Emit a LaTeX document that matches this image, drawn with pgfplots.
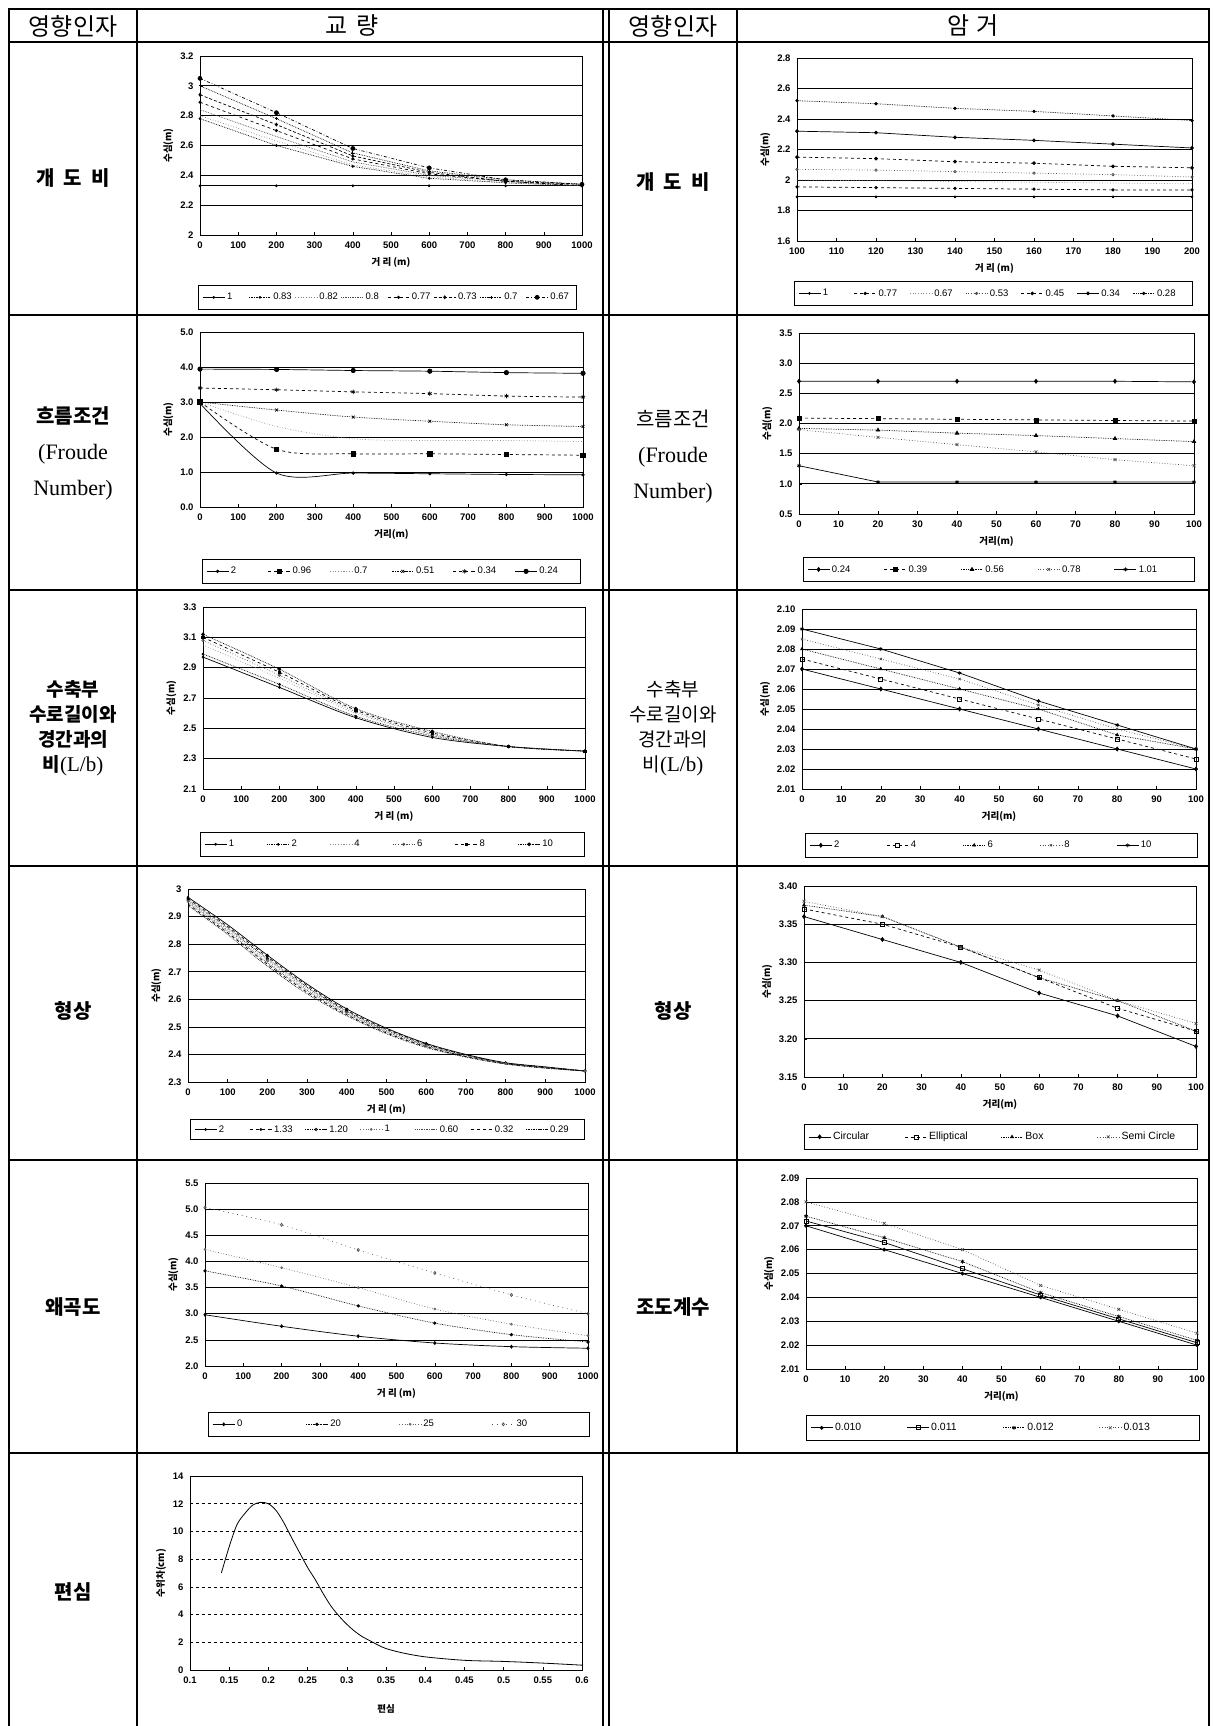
\documentclass[border=0pt]{standalone}
\usepackage{fontspec}
\usepackage{pgfplots}
\pgfplotsset{compat=1.18}
\setmainfont{Liberation Sans}
\newfontfamily\kr{Noto Sans CJK KR}
\newfontfamily\ser{Liberation Serif}
\newcommand\tickf{\fontsize{9.5}{10}\selectfont\bfseries}
\newcommand\legf{\fontsize{9.5}{11}\selectfont}
\newcommand\labf{\kr\fontsize{9.5}{10}\selectfont\bfseries}
\newcommand\LE[2]{\makebox[#1pt][l]{#2}}
\pgfplotsset{
  exc/.style={
    scale only axis, anchor=south west,
    axis line style={black, line width=0.7pt},
    ymajorgrids, grid style={black, line width=0.7pt},
    tick align=inside, major tick length=3pt,
    tick style={black, line width=0.5pt},
    xtick pos=bottom, ytick pos=left,
    tick label style={font=\tickf},
    xticklabel style={yshift=-3pt},
    yticklabel style={xshift=-3pt},
    /pgf/number format/assume math mode=true,
    /pgf/number format/1000 sep={},
    xlabel style={font=\labf, yshift=-2pt},
    ylabel style={font=\labf},
    legend style={font=\legf, draw=black, line width=0.6pt, anchor=north west,
      inner xsep=4pt, inner ysep=6pt},
    legend cell align=left,
    legend columns=-1,
    legend image code/.code={\draw[mark repeat=2,mark phase=2,##1] plot coordinates {(0pt,0pt) (11pt,0pt) (22pt,0pt)};},
    every axis plot/.append style={line width=0.7pt, black, mark size=1.3pt, mark options={solid}},
  },
  z1/.style={yticklabel style={/pgf/number format/.cd, fixed, fixed zerofill, precision=1}},
  z2/.style={yticklabel style={/pgf/number format/.cd, fixed, fixed zerofill, precision=2}},
}
\begin{document}
\begin{tikzpicture}
\useasboundingbox (0pt,0pt) rectangle (1214pt,-1726pt);
\begin{scope}[x=1pt,y=-1pt]
% table frame
\draw[line width=2.2pt] (9,1730) -- (9,9) -- (1209,9) -- (1209,1730);
\draw[line width=2pt] (9,42) -- (1209,42);
\foreach \yy in {315,590,866,1160,1453} \draw[line width=1.6pt] (9,\yy) -- (1209,\yy);
\draw[line width=1.4pt] (137,9) -- (137,1730);
\draw[line width=1.4pt] (603,9) -- (603,1730);
\draw[line width=1.4pt] (609,9) -- (609,1730);
\draw[line width=1.4pt] (737,9) -- (737,1453);
% header
\node[font=\kr\fontsize{24}{26}\selectfont] at (73,26) {영향인자};
\node[font=\kr\fontsize{24}{26}\selectfont] at (352,26) {교\hspace{9pt}량};
\node[font=\kr\fontsize{24}{26}\selectfont] at (673,26) {영향인자};
\node[font=\kr\fontsize{24}{26}\selectfont] at (973,26) {암\hspace{6pt}거};
% left labels
\node[font=\kr\bfseries\fontsize{20}{24}\selectfont] at (73,178) {개\hspace{9pt}도\hspace{9pt}비};
\node[align=center, font=\fontsize{22}{36}\selectfont] at (73,453) {{\kr\bfseries\fontsize{20}{36}\selectfont 흐름조건}\\{\ser (Froude}\\{\ser Number)}};
\node[align=center, font=\fontsize{19}{25}\selectfont] at (73,728) {{\kr\bfseries 수축부}\\{\kr\bfseries 수로길이와}\\{\kr\bfseries 경간과의}\\{\kr\bfseries 비}{\ser\fontsize{21}{25}\selectfont (L/b)}};
\node[font=\kr\bfseries\fontsize{20}{24}\selectfont] at (73,1011) {형상};
\node[font=\kr\bfseries\fontsize{20}{24}\selectfont] at (73,1307) {왜곡도};
\node[font=\kr\bfseries\fontsize{20}{24}\selectfont] at (73,1592) {편심};
% right labels
\node[font=\kr\bfseries\fontsize{20}{24}\selectfont] at (673,182) {개\hspace{9pt}도\hspace{9pt}비};
\node[align=center, font=\fontsize{22}{36}\selectfont] at (673,457) {{\kr\fontsize{20}{36}\selectfont 흐름조건}\\{\ser (Froude}\\{\ser Number)}};
\node[align=center, font=\fontsize{19}{25}\selectfont] at (673,728) {{\kr 수축부}\\{\kr 수로길이와}\\{\kr 경간과의}\\{\kr 비}{\ser\fontsize{21}{25}\selectfont (L/b)}};
\node[font=\kr\bfseries\fontsize{20}{24}\selectfont] at (673,1011) {형상};
\node[font=\kr\bfseries\fontsize{20}{24}\selectfont] at (673,1307) {조도계수};
\end{scope}

% ---------- C1 bridge opening ratio
\begin{axis}[exc, at={(200pt,-235pt)}, width=382pt, height=179pt,
  xmin=0,xmax=1000, ymin=2,ymax=3.2, xtick={0,100,...,1000}, ytick={2,2.2,2.4,2.6,2.8,3,3.2},
  xlabel={거 리 (m)}, ylabel={수심(m)}, legend style={at={(-0.005,-0.279)}}]
\addplot[solid, mark=*, mark size=1pt] coordinates {(0,2.33)(200,2.33)(400,2.33)(600,2.33)(800,2.33)(1000,2.33)};
\addlegendentry{\LE{19.5}{1}}
\addplot[densely dotted, mark=*, mark size=1pt] coordinates {(0,2.78)(200,2.60)(400,2.46)(600,2.38)(800,2.35)(1000,2.33)};
\addlegendentry{\LE{19.5}{0.83}}
\addplot[dotted, black!50] coordinates {(0,2.80)(200,2.63)(400,2.47)(600,2.39)(800,2.35)(1000,2.33)};
\addlegendentry{\LE{19.5}{0.82}}
\addplot[densely dotted, black!70] coordinates {(0,2.84)(200,2.66)(400,2.49)(600,2.40)(800,2.36)(1000,2.33)};
\addlegendentry{\LE{19.5}{0.8}}
\addplot[dashed, mark=*, mark size=1.2pt] coordinates {(0,2.89)(200,2.70)(400,2.51)(600,2.41)(800,2.36)(1000,2.33)};
\addlegendentry{\LE{19.5}{0.77}}
\addplot[densely dashed, mark=diamond*, mark size=1.5pt] coordinates {(0,2.94)(200,2.74)(400,2.53)(600,2.42)(800,2.36)(1000,2.34)};
\addlegendentry{\LE{19.5}{0.73}}
\addplot[densely dotted, mark=+, mark size=1.5pt] coordinates {(0,3.00)(200,2.78)(400,2.55)(600,2.43)(800,2.37)(1000,2.34)};
\addlegendentry{\LE{19.5}{0.7}}
\addplot[dash dot, mark=*, mark size=2pt] coordinates {(0,3.05)(200,2.82)(400,2.58)(600,2.45)(800,2.37)(1000,2.34)};
\addlegendentry{\LE{19.5}{0.67}}
\end{axis}

% ---------- C2 culvert opening ratio
\begin{axis}[exc, at={(797pt,-241pt)}, width=395pt, height=183pt,
  xmin=100,xmax=200, ymin=1.6,ymax=2.8, xtick={100,110,...,200}, ytick={1.6,1.8,2,2.2,2.4,2.6,2.8},
  xlabel={거 리 (m)}, ylabel={수심(m)}, legend style={at={(-0.008,-0.219)}}]
\addplot[solid, mark=*, mark size=1pt] coordinates {(100,1.89)(120,1.89)(140,1.89)(160,1.89)(180,1.89)(200,1.89)};
\addlegendentry{\LE{29}{1}}
\addplot[dashed, mark=*, mark size=1.3pt] coordinates {(100,1.955)(120,1.95)(140,1.945)(160,1.94)(180,1.935)(200,1.935)};
\addlegendentry{\LE{29}{0.77}}
\addplot[dotted, black!45] coordinates {(100,2.00)(120,1.995)(140,1.99)(160,1.985)(180,1.98)(200,1.975)};
\addlegendentry{\LE{29}{0.67}}
\addplot[dotted, black!70, mark=o, mark size=1.2pt] coordinates {(100,2.07)(120,2.065)(140,2.055)(160,2.045)(180,2.035)(200,2.02)};
\addlegendentry{\LE{29}{0.53}}
\addplot[dashed, mark=*, mark size=1.5pt] coordinates {(100,2.15)(120,2.14)(140,2.12)(160,2.11)(180,2.09)(200,2.08)};
\addlegendentry{\LE{29}{0.45}}
\addplot[solid, mark=*, mark size=1.5pt] coordinates {(100,2.32)(120,2.31)(140,2.28)(160,2.26)(180,2.235)(200,2.21)};
\addlegendentry{\LE{29}{0.34}}
\addplot[densely dotted, mark=*, mark size=1.3pt] coordinates {(100,2.52)(120,2.50)(140,2.47)(160,2.45)(180,2.42)(200,2.39)};
\addlegendentry{\LE{29}{0.28}}
\end{axis}

% ---------- C3 bridge Froude
\begin{axis}[exc, z1, at={(200pt,-507pt)}, width=383pt, height=175pt,
  xmin=0,xmax=1000, ymin=0,ymax=5, xtick={0,100,...,1000}, ytick={0,1,2,3,4,5},
  xlabel={거리(m)}, ylabel={수심(m)}, legend style={at={(0.005,-0.297)}}]
\addplot[solid, smooth, mark=*, mark size=1.3pt] coordinates {(0,2.96)(200,0.97)(400,0.97)(600,0.95)(800,0.93)(1000,0.92)};
\addlegendentry{\LE{35}{2}}
\addplot[dashed, smooth, mark=square*, mark size=2.2pt] coordinates {(0,3.0)(200,1.65)(400,1.52)(600,1.52)(800,1.50)(1000,1.48)};
\addlegendentry{\LE{35}{0.96}}
\addplot[dotted, black!45, smooth] coordinates {(0,3.0)(200,2.30)(400,1.95)(600,1.90)(800,1.90)(1000,1.87)};
\addlegendentry{\LE{35}{0.7}}
\addplot[densely dotted, smooth, mark=x, mark size=2pt] coordinates {(0,3.0)(200,2.77)(400,2.57)(600,2.45)(800,2.35)(1000,2.30)};
\addlegendentry{\LE{35}{0.51}}
\addplot[dashed, smooth, mark=asterisk, mark size=2.2pt] coordinates {(0,3.40)(200,3.35)(400,3.29)(600,3.24)(800,3.17)(1000,3.14)};
\addlegendentry{\LE{35}{0.34}}
\addplot[solid, smooth, mark=*, mark size=2.2pt] coordinates {(0,3.94)(200,3.93)(400,3.90)(600,3.88)(800,3.84)(1000,3.82)};
\addlegendentry{\LE{35}{0.24}}
\end{axis}

% ---------- C4 culvert Froude
\begin{axis}[exc, z1, at={(799pt,-514pt)}, width=395pt, height=181pt,
  xmin=0,xmax=100, ymin=0.5,ymax=3.5, xtick={0,10,...,100}, ytick={0.5,1,1.5,2,2.5,3,3.5},
  xlabel={거리(m)}, ylabel={수심(m)}, legend style={at={(0.010,-0.238)}}]
\addplot[solid, mark=diamond*, mark size=2pt] coordinates {(0,2.70)(20,2.70)(40,2.70)(60,2.70)(80,2.70)(100,2.69)};
\addlegendentry{\LE{50}{0.24}}
\addplot[dashed, mark=square*, mark size=2pt] coordinates {(0,2.09)(20,2.08)(40,2.07)(60,2.06)(80,2.05)(100,2.04)};
\addlegendentry{\LE{50}{0.39}}
\addplot[densely dotted, mark=triangle*, mark size=2pt] coordinates {(0,1.92)(20,1.89)(40,1.84)(60,1.80)(80,1.75)(100,1.70)};
\addlegendentry{\LE{50}{0.56}}
\addplot[dotted, black!70, mark=x, mark size=2pt] coordinates {(0,1.90)(20,1.77)(40,1.65)(60,1.53)(80,1.40)(100,1.30)};
\addlegendentry{\LE{50}{0.78}}
\addplot[solid, mark=asterisk, mark size=2pt] coordinates {(0,1.30)(20,1.03)(40,1.03)(60,1.03)(80,1.03)(100,1.03)};
\addlegendentry{\LE{50}{1.01}}
\end{axis}

% ---------- C5 bridge L/b
\begin{axis}[exc, at={(203pt,-789pt)}, width=382pt, height=182pt,
  xmin=0,xmax=1000, ymin=2.1,ymax=3.3, xtick={0,100,...,1000}, ytick={2.1,2.3,2.5,2.7,2.9,3.1,3.3},
  xlabel={거 리 (m)}, ylabel={수심(m)}, legend style={at={(-0.008,-0.236)}}]
\addplot[solid, smooth, mark=*, mark size=1pt] coordinates {(0,2.97)(200,2.77)(400,2.57)(600,2.44)(800,2.38)(1000,2.35)};
\addlegendentry{\LE{36}{1}}
\addplot[densely dotted, smooth, mark=*, mark size=1pt] coordinates {(0,2.99)(200,2.79)(400,2.58)(600,2.45)(800,2.38)(1000,2.35)};
\addlegendentry{\LE{36}{2}}
\addplot[dotted, black!45, smooth] coordinates {(0,3.05)(200,2.83)(400,2.60)(600,2.46)(800,2.38)(1000,2.35)};
\addlegendentry{\LE{36}{4}}
\addplot[dotted, black!70, smooth, mark=o, mark size=1.2pt] coordinates {(0,3.08)(200,2.85)(400,2.61)(600,2.46)(800,2.38)(1000,2.35)};
\addlegendentry{\LE{36}{6}}
\addplot[dashed, smooth, mark=square*, mark size=1.2pt] coordinates {(0,3.10)(200,2.87)(400,2.62)(600,2.47)(800,2.38)(1000,2.35)};
\addlegendentry{\LE{36}{8}}
\addplot[densely dotted, smooth, mark=*, mark size=1.5pt] coordinates {(0,3.12)(200,2.89)(400,2.63)(600,2.48)(800,2.38)(1000,2.35)};
\addlegendentry{\LE{36}{10}}
\end{axis}

% ---------- C6 culvert L/b
\begin{axis}[exc, z2, at={(802pt,-789pt)}, width=394pt, height=180pt,
  xmin=0,xmax=100, ymin=2.01,ymax=2.10, xtick={0,10,...,100}, ytick={2.01,2.02,2.03,2.04,2.05,2.06,2.07,2.08,2.09,2.10},
  xlabel={거리(m)}, ylabel={수심(m)}, legend style={at={(0.008,-0.244)}}]
\addplot[solid, mark=diamond*, mark size=2pt] coordinates {(0,2.07)(20,2.06)(40,2.05)(60,2.04)(80,2.03)(100,2.02)};
\addlegendentry{\LE{50}{2}}
\addplot[dashed, mark=square, mark size=2pt] coordinates {(0,2.075)(20,2.065)(40,2.055)(60,2.045)(80,2.035)(100,2.025)};
\addlegendentry{\LE{50}{4}}
\addplot[densely dotted, mark=triangle*, mark size=1.6pt] coordinates {(0,2.08)(20,2.07)(40,2.06)(60,2.05)(80,2.037)(100,2.03)};
\addlegendentry{\LE{50}{6}}
\addplot[dotted, black!70, mark=x, mark size=1.6pt] coordinates {(0,2.085)(20,2.075)(40,2.065)(60,2.052)(80,2.04)(100,2.03)};
\addlegendentry{\LE{50}{8}}
\addplot[solid, mark=asterisk, mark size=2pt] coordinates {(0,2.09)(20,2.08)(40,2.068)(60,2.054)(80,2.042)(100,2.03)};
\addlegendentry{\LE{50}{10}}
\end{axis}

% ---------- C7 bridge shape
\begin{axis}[exc, at={(188pt,-1082pt)}, width=397pt, height=193pt,
  xmin=0,xmax=1000, ymin=2.3,ymax=3.0, xtick={0,100,...,1000}, ytick={2.3,2.4,2.5,2.6,2.7,2.8,2.9,3.0},
  xlabel={거 리 (m)}, ylabel={수심(m)}, legend style={at={(0.005,-0.192)}, inner ysep=4pt},
  every axis plot/.append style={smooth, mark repeat=2}]
\addplot[solid, mark=*, mark size=1pt] coordinates {(0,2.970)(100,2.870)(200,2.760)(300,2.655)(400,2.565)(500,2.495)(600,2.440)(700,2.400)(800,2.370)(900,2.355)(1000,2.340)};
\addlegendentry{\LE{28.5}{2}}
\addplot[dashed, mark=*, mark size=1pt] coordinates {(0,2.965)(100,2.864)(200,2.754)(300,2.650)(400,2.560)(500,2.492)(600,2.438)(700,2.398)(800,2.369)(900,2.354)(1000,2.340)};
\addlegendentry{\LE{28.5}{1.33}}
\addplot[densely dotted, mark=o, mark size=1.2pt] coordinates {(0,2.960)(100,2.858)(200,2.747)(300,2.644)(400,2.556)(500,2.488)(600,2.435)(700,2.397)(800,2.368)(900,2.353)(1000,2.340)};
\addlegendentry{\LE{28.5}{1.20}}
\addplot[dotted, black!60, mark=o, mark size=1pt] coordinates {(0,2.955)(100,2.852)(200,2.740)(300,2.638)(400,2.552)(500,2.485)(600,2.432)(700,2.395)(800,2.367)(900,2.352)(1000,2.340)};
\addlegendentry{\LE{28.5}{1}}
\addplot[densely dotted, black!70] coordinates {(0,2.950)(100,2.846)(200,2.733)(300,2.632)(400,2.548)(500,2.482)(600,2.430)(700,2.393)(800,2.367)(900,2.352)(1000,2.340)};
\addlegendentry{\LE{28.5}{0.60}}
\addplot[dashed] coordinates {(0,2.945)(100,2.841)(200,2.727)(300,2.626)(400,2.544)(500,2.478)(600,2.428)(700,2.392)(800,2.366)(900,2.351)(1000,2.340)};
\addlegendentry{\LE{28.5}{0.32}}
\addplot[densely dotted] coordinates {(0,2.940)(100,2.835)(200,2.720)(300,2.620)(400,2.540)(500,2.475)(600,2.425)(700,2.390)(800,2.365)(900,2.350)(1000,2.340)};
\addlegendentry{\LE{28.5}{0.29}}
\end{axis}

% ---------- C8 culvert shape
\begin{axis}[exc, z2, at={(804pt,-1077pt)}, width=392pt, height=191pt,
  xmin=0,xmax=100, ymin=3.15,ymax=3.40, xtick={0,10,...,100}, ytick={3.15,3.20,3.25,3.30,3.35,3.40},
  xlabel={거리(m)}, ylabel={수심(m)}, legend style={at={(0,-0.246)}, font=\fontsize{10.5}{12}\selectfont}]
\addplot[solid, mark=diamond*, mark size=2pt] coordinates {(0,3.36)(20,3.33)(40,3.30)(60,3.26)(80,3.23)(100,3.19)};
\addlegendentry{\LE{69.5}{Circular}}
\addplot[dashed, mark=square, mark size=2pt] coordinates {(0,3.37)(20,3.35)(40,3.32)(60,3.28)(80,3.24)(100,3.21)};
\addlegendentry{\LE{69.5}{Elliptical}}
\addplot[densely dotted, mark=triangle*, mark size=1.6pt] coordinates {(0,3.375)(20,3.36)(40,3.32)(60,3.28)(80,3.25)(100,3.21)};
\addlegendentry{\LE{69.5}{Box}}
\addplot[dotted, black!70, mark=x, mark size=2pt] coordinates {(0,3.38)(20,3.36)(40,3.32)(60,3.29)(80,3.25)(100,3.22)};
\addlegendentry{\LE{69.5}{Semi Circle}}
\end{axis}

% ---------- C9 bridge skew
\begin{axis}[exc, z1, at={(205pt,-1366pt)}, width=383pt, height=183pt,
  xmin=0,xmax=1000, ymin=2,ymax=5.5, xtick={0,100,...,1000}, ytick={2,2.5,3,3.5,4,4.5,5,5.5},
  xlabel={거 리 (m)}, ylabel={수심(m)}, legend style={at={(0.008,-0.251)}}]
\addplot[solid, smooth, mark=diamond*, mark size=1.5pt] coordinates {(0,2.98)(200,2.76)(400,2.57)(600,2.44)(800,2.37)(1000,2.34)};
\addlegendentry{\LE{66.5}{0}}
\addplot[densely dotted, smooth, mark=*, mark size=1.3pt] coordinates {(0,3.82)(200,3.53)(400,3.15)(600,2.82)(800,2.60)(1000,2.46)};
\addlegendentry{\LE{66.5}{20}}
\addplot[dotted, black!60, smooth, mark=o, mark size=1pt] coordinates {(0,4.23)(200,3.88)(400,3.50)(600,3.09)(800,2.80)(1000,2.58)};
\addlegendentry{\LE{66.5}{25}}
\addplot[loosely dotted, black!70, smooth, mark=diamond, mark size=1.5pt] coordinates {(0,5.03)(200,4.70)(400,4.22)(600,3.78)(800,3.36)(1000,3.00)};
\addlegendentry{\LE{66.5}{30}}
\end{axis}

% ---------- C10 culvert roughness
\begin{axis}[exc, z2, at={(806pt,-1369pt)}, width=391pt, height=191pt,
  xmin=0,xmax=100, ymin=2.01,ymax=2.09, xtick={0,10,...,100}, ytick={2.01,2.02,2.03,2.04,2.05,2.06,2.07,2.08,2.09},
  xlabel={거리(m)}, ylabel={수심(m)}, legend style={at={(0,-0.241)}, font=\fontsize{10.5}{12}\selectfont}]
\addplot[solid, mark=*, mark size=1.6pt] coordinates {(0,2.070)(20,2.060)(40,2.050)(60,2.040)(80,2.030)(100,2.020)};
\addlegendentry{\LE{69.5}{0.010}}
\addplot[solid, mark=square, mark size=2pt] coordinates {(0,2.072)(20,2.063)(40,2.052)(60,2.041)(80,2.031)(100,2.021)};
\addlegendentry{\LE{69.5}{0.011}}
\addplot[densely dotted, mark=asterisk, mark size=2pt] coordinates {(0,2.074)(20,2.065)(40,2.055)(60,2.042)(80,2.032)(100,2.022)};
\addlegendentry{\LE{69.5}{0.012}}
\addplot[dotted, black!70, mark=x, mark size=2pt] coordinates {(0,2.080)(20,2.071)(40,2.060)(60,2.045)(80,2.035)(100,2.025)};
\addlegendentry{\LE{69.5}{0.013}}
\end{axis}

% ---------- C11 eccentricity
\begin{axis}[exc, at={(190pt,-1670pt)}, width=392pt, height=194pt,
  xmin=0.1,xmax=0.6, ymin=0,ymax=14, xtick={0.1,0.15,0.2,0.25,0.3,0.35,0.4,0.45,0.5,0.55,0.6}, ytick={0,2,4,6,8,10,12,14},
  grid style={black, dashed, line width=0.7pt},
  xlabel={편심}, ylabel={수위차(cm)}, xlabel style={yshift=-12pt}]
\addplot[solid, smooth, line width=0.8pt] coordinates {(0.14,7.0)(0.15,8.9)(0.16,10.5)(0.17,11.3)(0.18,11.9)(0.19,12.1)(0.20,12.0)(0.21,11.5)(0.22,10.6)(0.23,9.5)(0.24,8.45)(0.25,7.4)(0.26,6.5)(0.27,5.5)(0.28,4.6)(0.29,3.9)(0.30,3.3)(0.31,2.8)(0.32,2.4)(0.33,2.1)(0.34,1.8)(0.35,1.55)(0.37,1.25)(0.40,0.95)(0.45,0.7)(0.50,0.62)(0.55,0.5)(0.60,0.35)};
\end{axis}
\end{tikzpicture}
\end{document}
